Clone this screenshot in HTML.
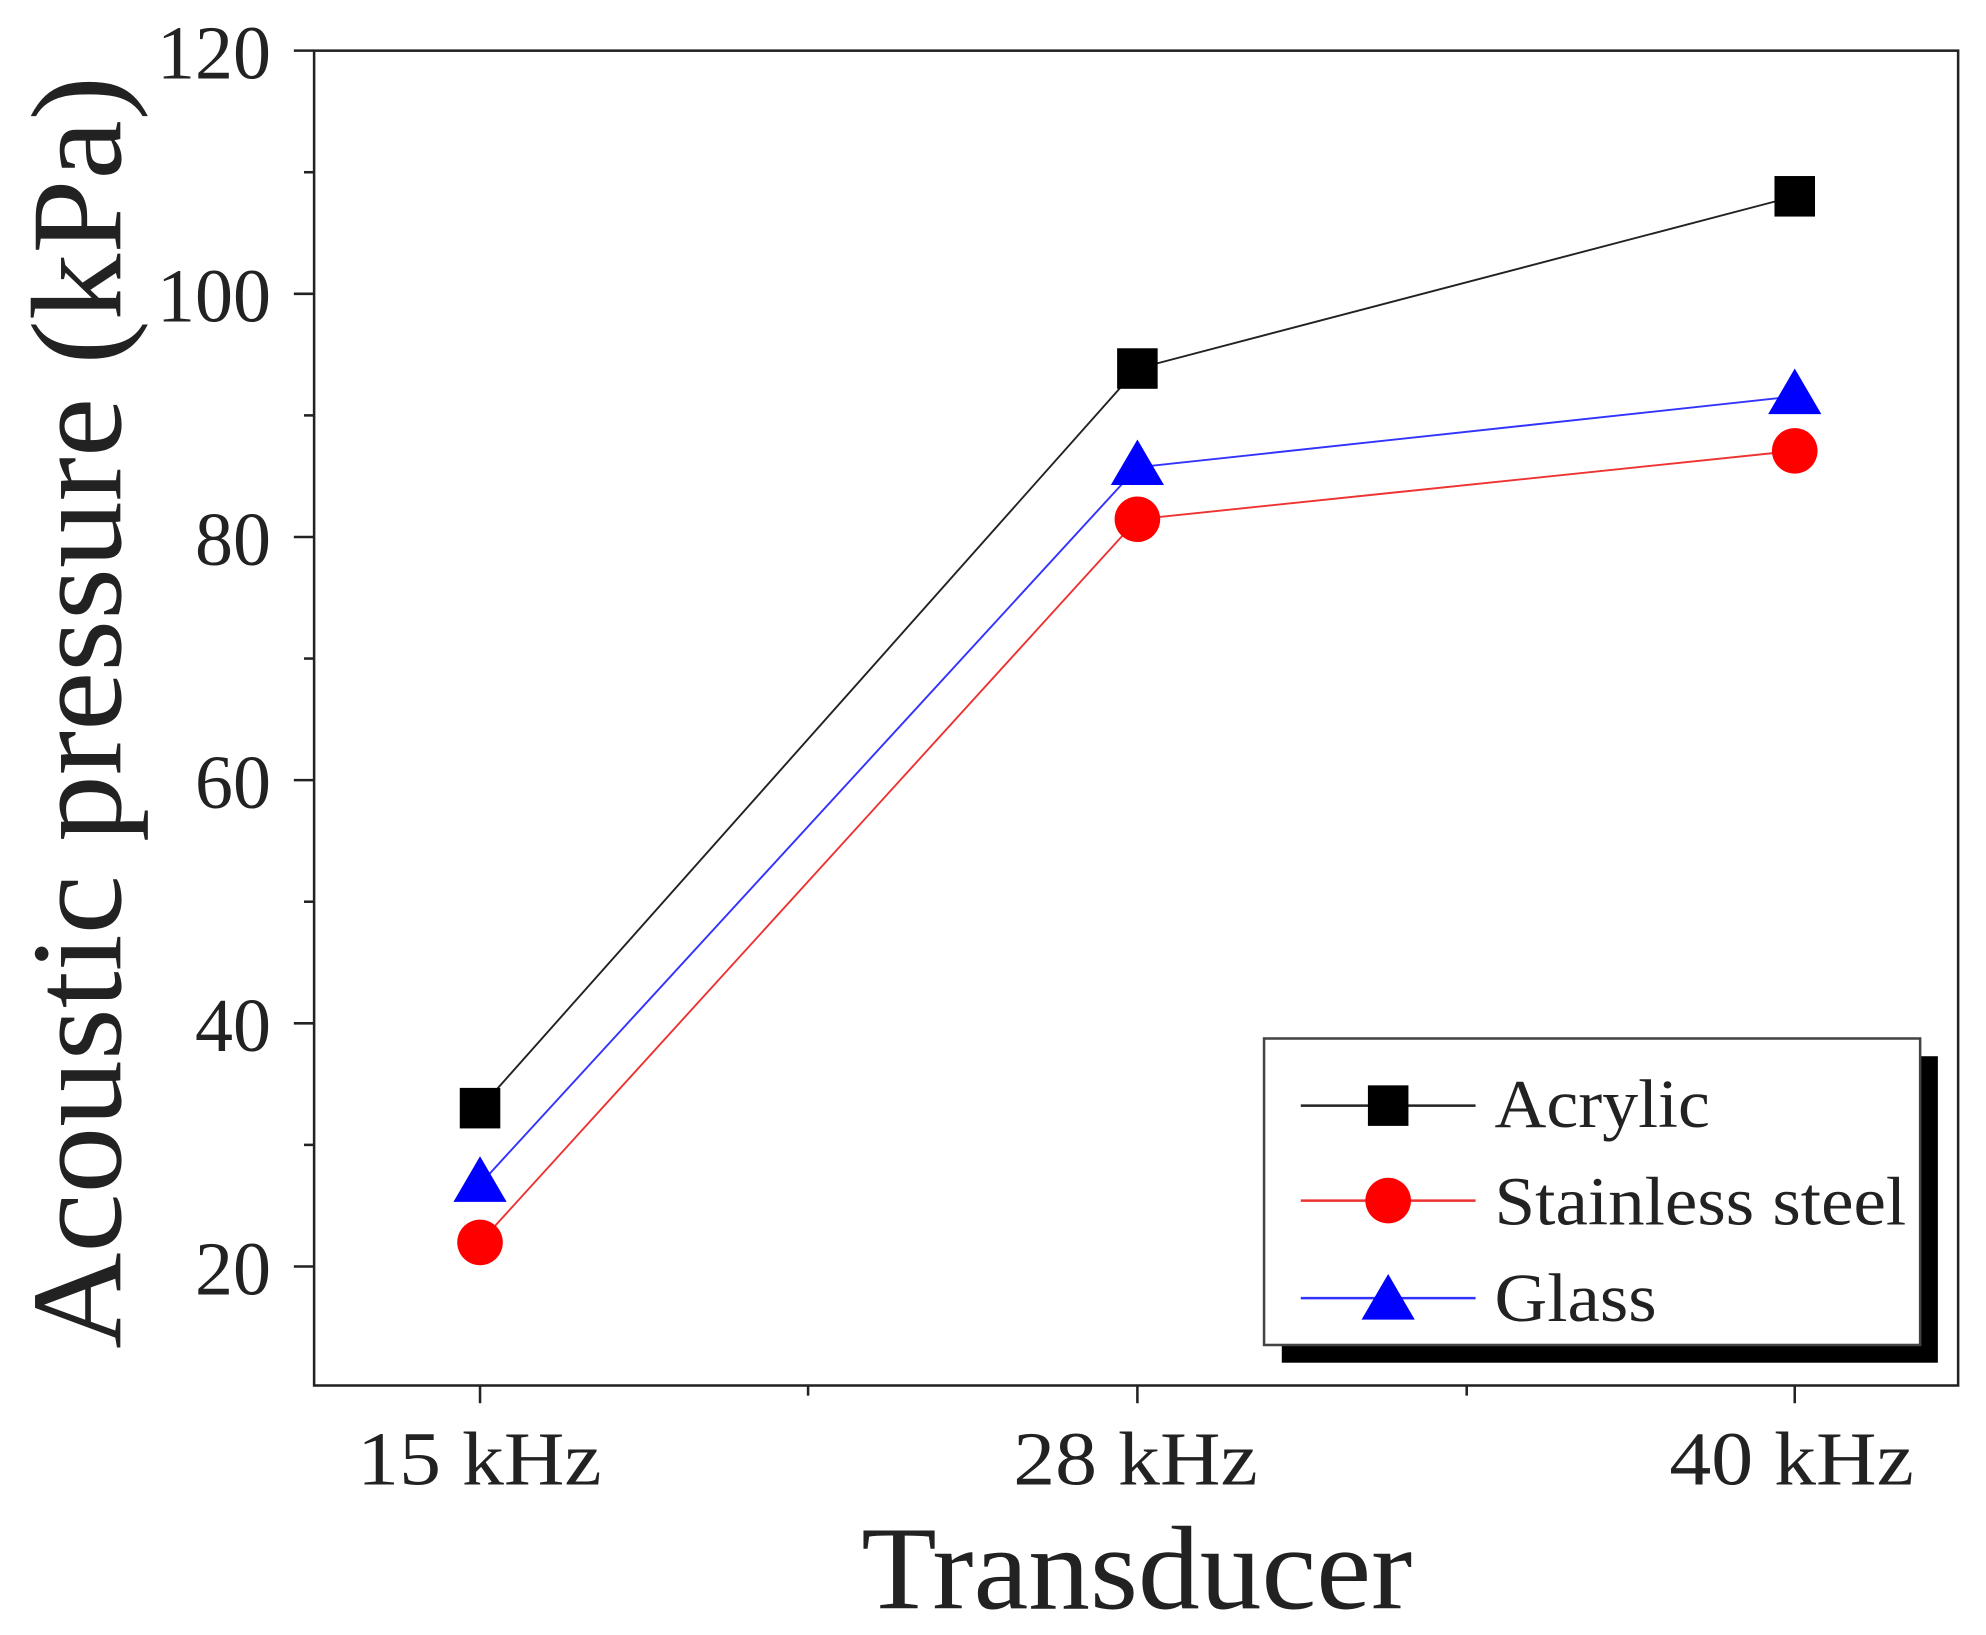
<!DOCTYPE html>
<html><head><style>html,body{margin:0;padding:0;background:#fff;}svg{display:block;}</style></head>
<body>
<svg width="1986" height="1635" viewBox="0 0 1568 1291" preserveAspectRatio="none" xmlns="http://www.w3.org/2000/svg" font-family="'Liberation Serif', serif">
<rect width="1568" height="1291" fill="#fff"/>
<rect x="248" y="40" width="1298" height="1054" fill="none" stroke="#222" stroke-width="2"/>
<g stroke="#222" stroke-width="2">
<line x1="232" y1="40" x2="248" y2="40"/><line x1="232" y1="232" x2="248" y2="232"/><line x1="232" y1="424" x2="248" y2="424"/><line x1="232" y1="616" x2="248" y2="616"/><line x1="232" y1="808" x2="248" y2="808"/><line x1="232" y1="1000" x2="248" y2="1000"/>
<line x1="240" y1="136" x2="248" y2="136"/><line x1="240" y1="328" x2="248" y2="328"/><line x1="240" y1="520" x2="248" y2="520"/><line x1="240" y1="712" x2="248" y2="712"/><line x1="240" y1="904" x2="248" y2="904"/>
<line x1="379" y1="1094" x2="379" y2="1108"/><line x1="898" y1="1094" x2="898" y2="1108"/><line x1="1417" y1="1094" x2="1417" y2="1108"/>
<line x1="638" y1="1094" x2="638" y2="1102"/><line x1="1158" y1="1094" x2="1158" y2="1102"/>
</g>
<g font-size="60" fill="#222" text-anchor="end">
<text x="214" y="62">120</text><text x="214" y="254">100</text><text x="214" y="446">80</text><text x="214" y="638">60</text><text x="214" y="830">40</text><text x="214" y="1022">20</text>
</g>
<g font-size="60" fill="#222">
<text x="282" y="1172" textLength="193" lengthAdjust="spacingAndGlyphs">15 kHz</text>
<text x="800" y="1172" textLength="193" lengthAdjust="spacingAndGlyphs">28 kHz</text>
<text x="1318" y="1172" textLength="193" lengthAdjust="spacingAndGlyphs">40 kHz</text>
</g>
<text x="680" y="1270" font-size="94" fill="#222" textLength="435" lengthAdjust="spacingAndGlyphs">Transducer</text>
<text transform="translate(95,1065) rotate(-90)" font-size="102" fill="#222" textLength="1005" lengthAdjust="spacingAndGlyphs">Acoustic pressure (kPa)</text>
<polyline points="379,875 898,291 1417,155" fill="none" stroke="#222" stroke-width="1.5"/>
<polyline points="379,981 898,410 1417,356" fill="none" stroke="#e33" stroke-width="1.5"/>
<polyline points="379,935 898,369 1417,313" fill="none" stroke="#33f" stroke-width="1.5"/>
<g fill="#000"><rect x="363" y="859" width="32" height="32"/><rect x="882" y="275" width="32" height="32"/><rect x="1401" y="139" width="32" height="32"/></g>
<g fill="#f00"><circle cx="379" cy="981" r="18"/><circle cx="898" cy="410" r="18"/><circle cx="1417" cy="356" r="18"/></g>
<g fill="#00f"><polygon points="379,913 358,949 400,949"/><polygon points="898,347 877,383 919,383"/><polygon points="1417,291 1396,327 1438,327"/></g>
<rect x="1012" y="834" width="518" height="242" fill="#000"/>
<rect x="998" y="820" width="518" height="242" fill="#fff" stroke="#444" stroke-width="2"/>
<line x1="1027" y1="873" x2="1165" y2="873" stroke="#222" stroke-width="2"/>
<rect x="1080" y="857" width="32" height="32" fill="#000"/>
<line x1="1027" y1="948" x2="1165" y2="948" stroke="#e33" stroke-width="2"/>
<circle cx="1096" cy="948" r="18" fill="#f00"/>
<line x1="1027" y1="1025" x2="1165" y2="1025" stroke="#33f" stroke-width="2"/>
<polygon points="1096,1006 1075,1042 1117,1042" fill="#00f"/>
<g font-size="54" fill="#222">
<text x="1180" y="890" textLength="170" lengthAdjust="spacingAndGlyphs">Acrylic</text>
<text x="1180" y="967" textLength="325" lengthAdjust="spacingAndGlyphs">Stainless steel</text>
<text x="1180" y="1043" textLength="128" lengthAdjust="spacingAndGlyphs">Glass</text>
</g>
</svg>
</body></html>
